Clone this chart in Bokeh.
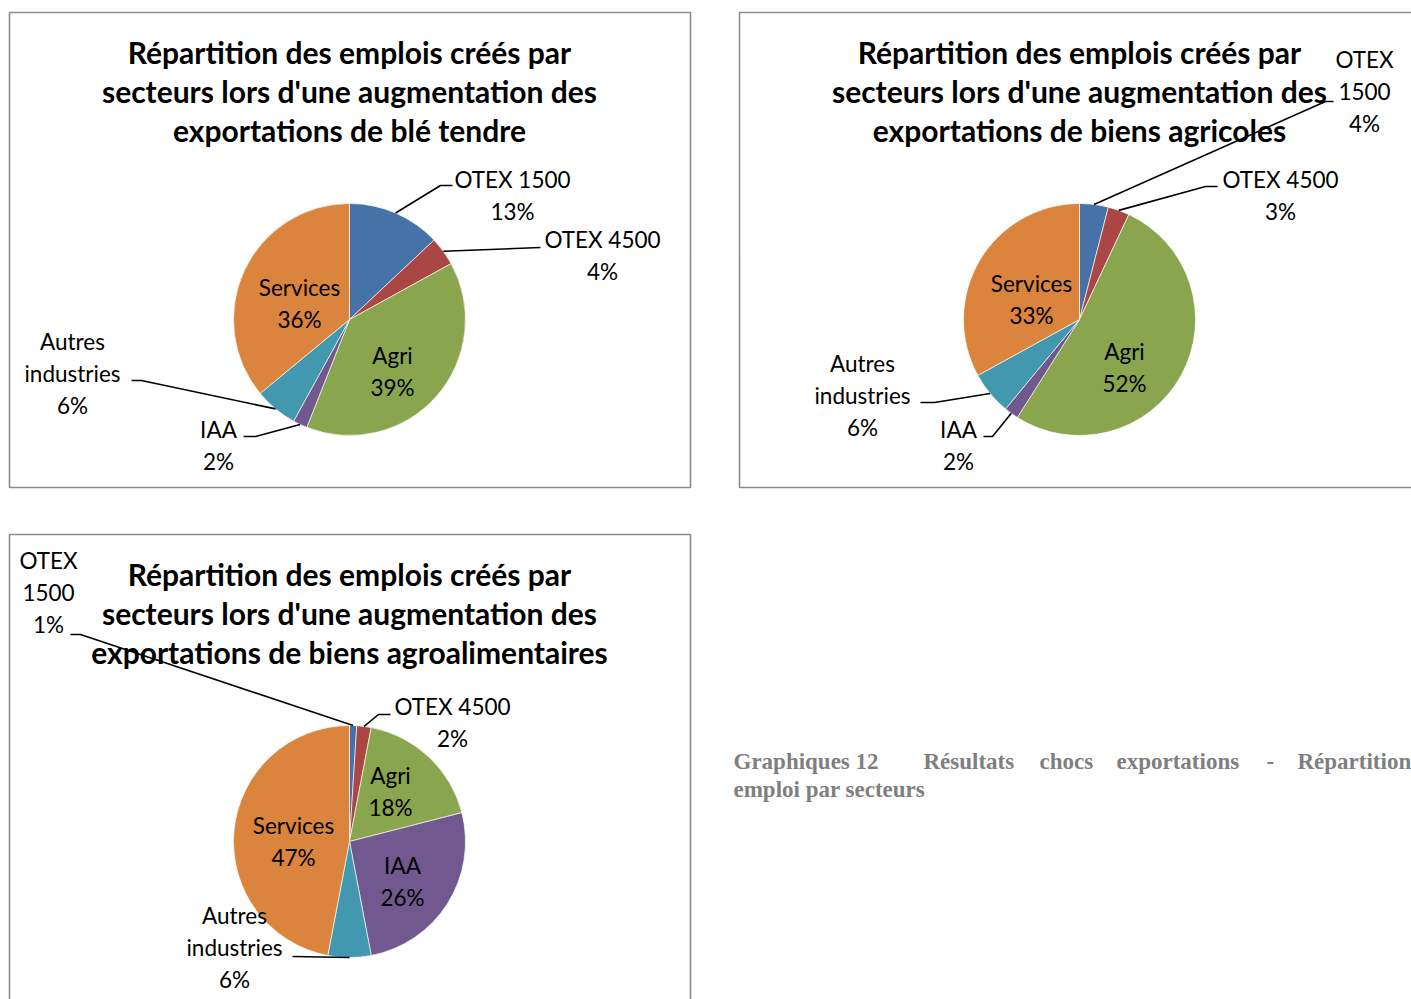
import math
from bokeh.plotting import figure
from bokeh.models import ColumnDataSource, Range1d
from bokeh.core.properties import value
from bokeh.embed import file_html
from bokeh.resources import INLINE

# ---------------- data ----------------
categories = ["OTEX 1500", "OTEX 4500", "Agri", "IAA", "Autres industries", "Services"]
ble_tendre = [13, 4, 39, 2, 6, 36]
biens_agricoles = [4, 3, 52, 2, 6, 33]
biens_agroalimentaires = [1, 2, 18, 26, 6, 47]
colors = ["#4572A7", "#AA4643", "#89A54E", "#71588F", "#4198AF", "#DB843D"]

titles = [
    ["Répartition des emplois créés par", "secteurs lors d'une augmentation des", "exportations de blé tendre"],
    ["Répartition des emplois créés par", "secteurs lors d'une augmentation des", "exportations de biens agricoles"],
    ["Répartition des emplois créés par", "secteurs lors d'une augmentation des", "exportations de biens agroalimentaires"],
]
caption_line1 = ["Graphiques 12", "Résultats", "chocs", "exportations", "-", "Répartition"]
caption_line2 = "emploi par secteurs"

# ---------------- layout (image pixel coordinates) ----------------
W, H = 1411, 999
def Y(y):
    return H - y

LABEL_FONT = "Lato"
TITLE_FONT = "Lato"
TEXT_DY = -2

charts = [
    dict(values=ble_tendre, frame=(9, 12, 690, 487), center=(349, 319), r=116, title=titles[0], title_y=53,
         labels=[
             dict(x=512, y=181, split=False, leader=[(452, 185), (440, 185)]),
             dict(x=602, y=241, split=False, leader=[(540, 247)]),
             dict(x=392, y=357, split=False, leader=None),
             dict(x=218, y=431, split=False, leader=[(243, 436), (255, 436)]),
             dict(x=72, y=343, split=True, leader=[(131, 380), (141, 380)]),
             dict(x=299, y=289, split=False, leader=None),
         ]),
    dict(values=biens_agricoles, frame=(739, 12, 1430, 487), center=(1079, 319), r=116, title=titles[1], title_y=53,
         labels=[
             dict(x=1364, y=61, split=True, leader=[(1333, 101), (1325, 101)]),
             dict(x=1280, y=181, split=False, leader=[(1217, 186), (1205, 186)]),
             dict(x=1124, y=353, split=False, leader=None),
             dict(x=958, y=431, split=False, leader=[(983, 436), (992, 436)]),
             dict(x=862, y=365, split=True, leader=[(920, 402), (934, 402)]),
             dict(x=1031, y=285, split=False, leader=None),
         ]),
    dict(values=biens_agroalimentaires, frame=(9, 534, 690, 1020), center=(349, 841), r=116, title=titles[2], title_y=575,
         labels=[
             dict(x=48, y=562, split=True, leader=[(70, 634), (80, 634)]),
             dict(x=452, y=708, split=False, leader=[(390, 714), (378, 714)]),
             dict(x=390, y=777, split=False, leader=None),
             dict(x=402, y=867, split=False, leader=None),
             dict(x=234, y=917, split=True, leader=[(292, 956)]),
             dict(x=293, y=827, split=False, leader=None),
         ]),
]

p = figure(width=W, height=H, x_range=Range1d(0, W), y_range=Range1d(0, H),
           output_backend="svg", toolbar_location=None, min_border=0)
p.axis.visible = False
p.xgrid.visible = False
p.ygrid.visible = False
p.outline_line_color = None
p.background_fill_color = "white"
p.border_fill_color = "white"

for ch in charts:
    x0, y0, x1, y1 = ch["frame"]
    p.quad(left=[x0], right=[x1], bottom=[Y(y1)], top=[Y(y0)], fill_color="white",
           line_color="#8c8c8c", line_width=1.6)

for ch in charts:
    vals = ch["values"]
    cx, cy = ch["center"]
    r = ch["r"]
    total = float(sum(vals))
    starts, ends, mids = [], [], []
    cum = 0.0
    for v in vals:
        a0 = math.pi / 2 - 2 * math.pi * cum / total
        cum += v
        a1 = math.pi / 2 - 2 * math.pi * cum / total
        starts.append(a0)
        ends.append(a1)
        mids.append((a0 + a1) / 2)
    src = ColumnDataSource(dict(x=[cx] * len(vals), y=[Y(cy)] * len(vals), start=starts, end=ends,
                                color=colors, cat=categories, val=vals))
    p.wedge(x="x", y="y", radius=r, start_angle="start", end_angle="end", direction="clock",
            fill_color="color", line_color="white", line_width=0.8, line_alpha=0.8, source=src)

    # title
    for i, line in enumerate(ch["title"]):
        p.text(x=[cx], y=[Y(ch["title_y"] + 39 * i + TEXT_DY)], text=[line], text_align="center",
               text_baseline="middle", text_font=value(TITLE_FONT), text_font_style="bold",
               text_font_size="30px", text_color="#000000")

    # labels & leaders
    for cat, v, mid, lab in zip(categories, vals, mids, ch["labels"]):
        if lab["split"]:
            lines = cat.split(" ") + [f"{v}%"]
        else:
            lines = [cat, f"{v}%"]
        for j, t in enumerate(lines):
            p.text(x=[lab["x"]], y=[Y(lab["y"] + 32 * j + TEXT_DY)], text=[t], text_align="center",
                   text_baseline="middle", text_font=value(LABEL_FONT), text_font_size="22.5px",
                   text_color="#000000")
        if lab["leader"]:
            ex = cx + r * math.cos(mid)
            ey = Y(cy) + r * math.sin(mid)
            xs = [pt[0] for pt in lab["leader"]] + [ex]
            ys = [Y(pt[1]) for pt in lab["leader"]] + [ey]
            p.line(xs, ys, line_color="black", line_width=1.6)

# caption (justified words)
cap_x = [733, 923, 1039, 1116, 1266, 1297]
for t, x in zip(caption_line1, cap_x):
    p.text(x=[x], y=[Y(761)], text=[t], text_align="left", text_baseline="middle",
           text_font=value("Liberation Serif"), text_font_style="bold", text_font_size="23px",
           text_color="#7f7f7f")
p.text(x=[733], y=[Y(789)], text=[caption_line2], text_align="left", text_baseline="middle",
       text_font=value("Liberation Serif"), text_font_style="bold", text_font_size="23px",
       text_color="#7f7f7f")

open("out.html", "w").write(file_html(p, INLINE))
